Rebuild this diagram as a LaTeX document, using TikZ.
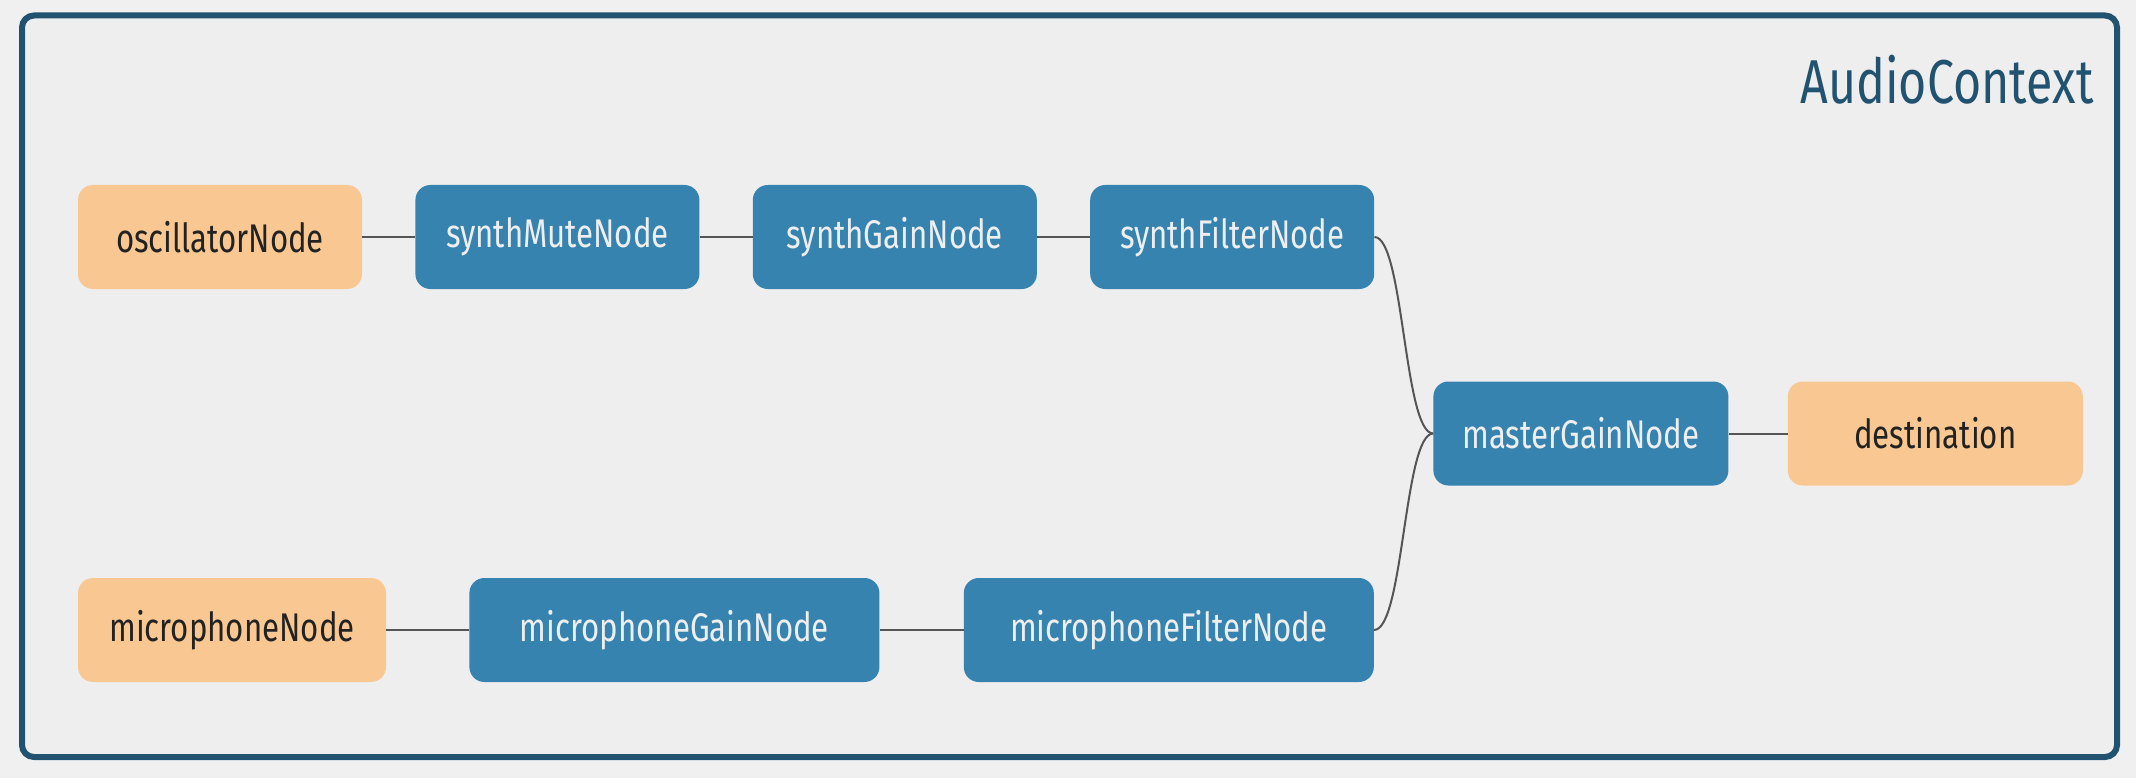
\documentclass[tikz,border=0pt]{standalone}
\usepackage{fontspec}
\setmainfont[FakeStretch=0.78]{Fira Sans}
\usepackage{tikz}
\usetikzlibrary{positioning,calc}
\definecolor{acOrange}{HTML}{F8C792}
\definecolor{acBlue}{HTML}{3683B0}
\definecolor{acNavy}{HTML}{215270}
\definecolor{acInk}{HTML}{222222}
\definecolor{acPale}{HTML}{EEEEEE}
\definecolor{acPage}{HTML}{F0F0F0}
\definecolor{acWire}{HTML}{555555}
\tikzset{
  ac-box/.style={
    rounded corners=15pt, minimum height=104pt, inner sep=0pt,
    font=\fontsize{40}{48}\selectfont, align=center
  },
  ac-io/.style={ac-box, fill=acOrange, text=acInk},
  ac-proc/.style={ac-box, fill=acBlue, text=acPale},
  ac-wire/.style={line width=2pt, draw=acWire},
  ac-frame/.style={line width=6pt, draw=acNavy, fill=acPale, rounded corners=12pt},
  ac-title/.style={font=\fontsize{62}{74}\selectfont, text=acNavy}
}

\begin{document}
\begin{tikzpicture}[x=1pt, y=-1pt, node distance=53pt]
\fill[acPage] (0,0) rectangle (2136,778);
\useasboundingbox (0,0) rectangle (2136,778);

% Context frame
\coordinate (ctxnw) at (22,15.5);
\coordinate (ctxse) at (2117,757);
\draw[ac-frame] (ctxnw) rectangle (ctxse);
\node[ac-title, anchor=base east] (title) at (2097,104) {AudioContext};

% Synth chain
\node[ac-io, minimum width=284pt] (osc) at (220,237) {oscillatorNode};
\node[ac-proc, minimum width=284pt, right=of osc] (smute) {synthMuteNode};
\node[ac-proc, minimum width=284pt, right=of smute] (sgain) {synthGainNode};
\node[ac-proc, minimum width=284pt, right=of sgain] (sfilter) {synthFilterNode};

% Microphone chain
\node[ac-io, minimum width=308pt] (mic) at (232,630) {microphoneNode};
\node[ac-proc, minimum width=410pt, right=83pt of mic] (mgain) {microphoneGainNode};
\node[ac-proc, minimum width=410pt, right=84pt of mgain] (mfilter) {microphoneFilterNode};

% Output
\coordinate (join) at ($(sfilter.east)!.5!(mfilter.east)$);
\node[ac-proc, minimum width=295pt, right=59pt of join] (master) {masterGainNode};
\node[ac-io, minimum width=295pt, right=59pt of master] (dest) {destination};

% Wires
\draw[ac-wire] (osc) -- (smute);
\draw[ac-wire] (smute) -- (sgain);
\draw[ac-wire] (sgain) -- (sfilter);
\draw[ac-wire] (mic) -- (mgain);
\draw[ac-wire] (mgain) -- (mfilter);
\draw[ac-wire] (master) -- (dest);

\coordinate (bend) at ($(sfilter.east)!.5!(master.west)$);
\draw[ac-wire] (sfilter.east) .. controls (sfilter.east -| bend)
  and (master.west -| bend) .. (master.west);
\draw[ac-wire] (mfilter.east) .. controls (mfilter.east -| bend)
  and (master.west -| bend) .. (master.west);
\end{tikzpicture}
\end{document}
